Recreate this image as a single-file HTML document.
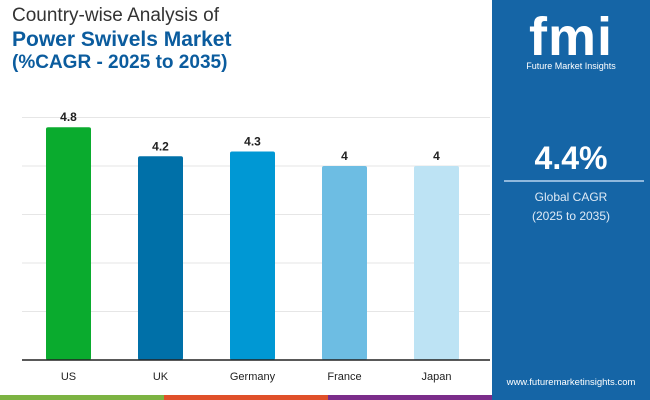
<!DOCTYPE html>
<html><head><meta charset="utf-8"><style>
body{margin:0;width:650px;height:400px;overflow:hidden;background:#fff;font-family:"Liberation Sans",sans-serif;position:relative}
.t{position:absolute;left:12px;font-weight:bold}
</style></head><body>
<div class="t" style="top:5px;font-size:19px;font-weight:normal;color:#333">Country-wise Analysis of</div>
<div class="t" style="top:28px;font-size:21px;color:#0b5c9e">Power Swivels Market</div>
<div class="t" style="top:52px;font-size:19px;color:#0b5c9e">(%CAGR - 2025 to 2035)</div>
<svg id="chart" width="490" height="400" style="position:absolute;left:0;top:0"></svg>
<div style="position:absolute;top:395px;left:0;width:492px;height:5px;display:flex">
<div style="flex:1;background:#7cb342"></div><div style="flex:1;background:#e0502a"></div><div style="flex:1;background:#7b2d8a"></div></div>
<div style="position:absolute;left:492px;top:0;width:158px;height:400px;background:#1565a6;color:#fff;text-align:center">
<div style="position:absolute;top:6px;left:0;width:158px;font-size:54px;font-weight:bold;letter-spacing:1px">fmi</div>
<div style="position:absolute;top:61px;left:0;width:158px;font-size:9px">Future Market Insights</div>
<div style="position:absolute;top:140px;left:0;width:158px;font-size:32px;font-weight:bold">4.4%</div>
<div style="position:absolute;top:180px;left:12px;width:140px;height:2px;background:#8fb8dd"></div>
<div style="position:absolute;top:188px;left:0;width:158px;font-size:12px;line-height:19px;color:#dfeaf5">Global CAGR<br>(2025 to 2035)</div>
<div style="position:absolute;top:377px;left:0;width:158px;font-size:9.5px">www.futuremarketinsights.com</div>
</div>
<script>
const categories=["US","UK","Germany","France","Japan"];
const values=[4.8,4.2,4.3,4,4];
const labels=["4.8","4.2","4.3","4","4"];
const colors=["#0aab2e","#0070a8","#0098d4","#6dbde3","#bde3f4"];
const ticks=[1,2,3,4,5];
const svg=document.getElementById('chart');const NS="http://www.w3.org/2000/svg";
const y=v=>360-v*48.5, x=i=>46+i*92;
function el(t,a){const e=document.createElementNS(NS,t);for(const k in a)e.setAttribute(k,a[k]);svg.appendChild(e);return e;}
ticks.forEach(t=>{const g=el('line',{x1:22,x2:490,y1:y(t),y2:y(t),stroke:'#e6e6e6'});

});
categories.forEach((c,i)=>{
const r=el('rect',{x:x(i),y:y(values[i]),width:45,height:360-y(values[i]),rx:2,fill:colors[i]});


const l=el('text',{x:x(i)+22.5,y:y(values[i])-6,'text-anchor':'middle','font-size':12,'font-weight':'bold',fill:'#222'});l.textContent=labels[i];


const xl=el('text',{x:x(i)+22.5,y:380,'text-anchor':'middle','font-size':11,fill:'#222'});xl.textContent=c;


});
const ax=el('line',{x1:22,x2:490,y1:360,y2:360,stroke:'#222','stroke-width':1.5});


</script>
</body></html>
